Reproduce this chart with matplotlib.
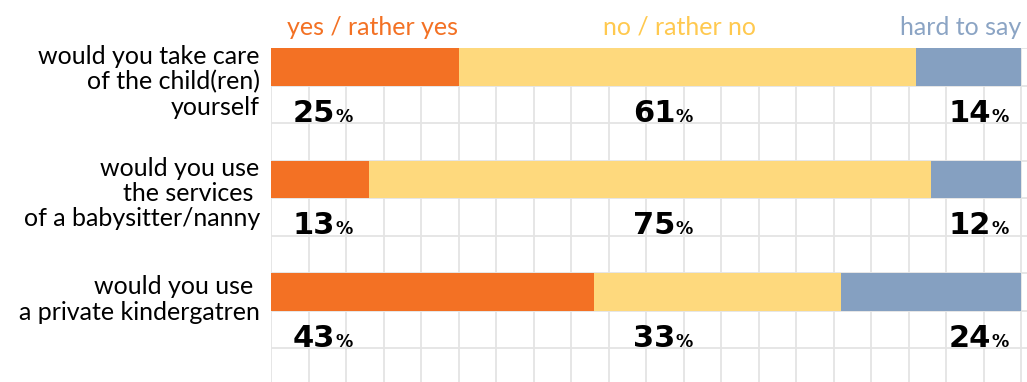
import numpy as np
import matplotlib
matplotlib.use("Agg")
import matplotlib.pyplot as plt

# survey data
questions = [
    "would you take care\nof the child(ren)\nyourself",
    "would you use\nthe services \nof a babysitter/nanny",
    "would you use \na private kindergatren",
]
answers = ["yes / rather yes", "no / rather no", "hard to say"]
yes_vals = [25, 13, 43]
no_vals = [61, 75, 33]
hard_vals = [14, 12, 24]

bar_colors = ["#F37124", "#FED97D", "#85A0C1"]
head_colors = ["#F37124", "#FFC94F", "#8BA4C4"]
grid_color = "#E4E4E4"
font = "Lato"
num_font = "DejaVu Sans"

fig = plt.figure(figsize=(10.27, 3.82), dpi=100)
ax = fig.add_axes([271 / 1027, 0, 756 / 1027, 1 - 48 / 382])
ax.set_xlim(0, 100.8)
ax.set_ylim(8.9, 0)
for s in ax.spines.values():
    s.set_visible(False)
ax.tick_params(length=0, labelbottom=False, labelleft=False)

# square background grid, one cell = 5 %
ax.vlines(np.arange(0, 101, 5), 0, 8.9, color=grid_color, lw=1.3, zorder=0)
ax.hlines(np.arange(0, 9), 0, 100.8, color=grid_color, lw=1.3, zorder=0)

rows = np.arange(len(questions)) * 3
vals = np.array([yes_vals, no_vals, hard_vals])
left = np.zeros(len(questions))
for k in range(3):
    ax.barh(rows + 0.5, vals[k], left=left, height=1.0, color=bar_colors[k],
            zorder=2)
    left += vals[k]

# column headers
ax.text(2.1, -0.35, answers[0], color=head_colors[0], fontsize=18,
        family=font, ha="left", va="baseline")
ax.text(44.3, -0.35, answers[1], color=head_colors[1], fontsize=18,
        family=font, ha="left", va="baseline")
ax.text(100, -0.35, answers[2], color=head_colors[2], fontsize=18,
        family=font, ha="right", va="baseline")

# question labels (the two-line one sits a little lower)
label_shift = [-0.08, -0.1, 0.06]
for r, q, dy in zip(rows, questions, label_shift):
    ax.text(-1.5, r + dy, q, fontsize=18, family=font, ha="right",
            va="top", multialignment="right", linespacing=1.12, clip_on=False)

fig.canvas.draw()
renderer = fig.canvas.get_renderer()
inv = ax.transData.inverted()


def pct_label(x, y, value, align):
    num_kw = dict(fontsize=22, fontweight="bold", family=num_font,
                  va="baseline", color="black", zorder=3)
    pc_kw = dict(fontsize=12.5, fontweight="bold", family=num_font,
                 va="baseline", color="black", zorder=3)
    if align == "left":
        t = ax.text(x, y, str(value), ha="left", **num_kw)
        bb = t.get_window_extent(renderer)
        xr = inv.transform((bb.x1, bb.y0))[0]
        ax.text(xr, y, "%", ha="left", **pc_kw)
    else:
        p = ax.text(x, y, "%", ha="right", **pc_kw)
        bb = p.get_window_extent(renderer)
        xl = inv.transform((bb.x0, bb.y0))[0]
        ax.text(xl, y, str(value), ha="right", **num_kw)


for i, r in enumerate(rows):
    pct_label(2.9, r + 1.96, yes_vals[i], "left")
    pct_label(48.3, r + 1.96, no_vals[i], "left")
    pct_label(98.3, r + 1.96, hard_vals[i], "right")

fig.savefig("out.png", dpi=100)
